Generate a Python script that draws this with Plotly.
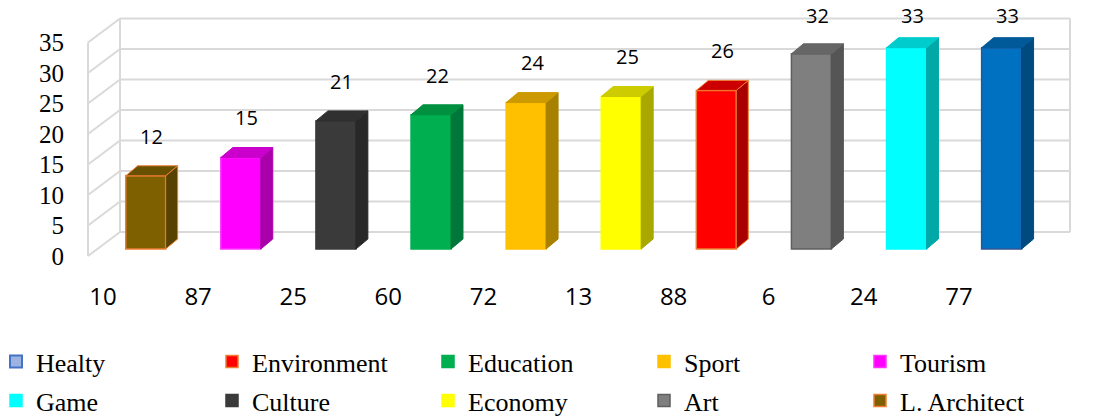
import plotly.graph_objects as go

# ---- data ----
categories = ["10", "87", "25", "60", "72", "13", "88", "6", "24", "77"]
series_names = ["L. Architect", "Tourism", "Culture", "Education", "Sport",
                "Economy", "Environment", "Art", "Game", "Healty"]
values = [12, 15, 21, 22, 24, 25, 26, 32, 33, 33]
legend_order = ["Healty", "Environment", "Education", "Sport", "Tourism",
                "Game", "Culture", "Economy", "Art", "L. Architect"]
y_ticks = [0, 5, 10, 15, 20, 25, 30, 35]

# ---- styling ----
front_colors = ["#7F6000", "#FF00FF", "#3A3A3A", "#00B050", "#FFC000",
                "#FFFF00", "#FF0000", "#7F7F7F", "#00FFFF", "#0070C0"]
side_colors = ["#574200", "#AA00AA", "#282828", "#00773A", "#A88000",
               "#A8A800", "#A80000", "#555555", "#00A8A8", "#004A80"]
top_colors = ["#675000", "#CC00CC", "#303030", "#009040", "#CC9A00",
              "#CCCC00", "#CC0000", "#666666", "#00CCCC", "#005A9A"]
edge_colors = ["#ED7D31", "#FF33FF", "#3A3A3A", "#00B050", "#FFC000",
               "#FFFF00", "#ED7D31", "#5F5F5F", "#00FFFF", "#2F5597"]

W, H = 1102, 419
PX_X = 95.1          # pixels per category step
PX_Y = 6.1           # pixels per value unit
X0_PX = 103          # pixel of the first category on the front plane
Y0_PX = 256          # pixel of value 0 on the front plane
M_L, M_R, M_T, M_B = 86, 0, 0, 149
PLOT_W = W - M_L - M_R
PLOT_H = H - M_T - M_B

# perspective depth of the box (front plane -> back wall)
DX = 32 / PX_X
DY = 24 / PX_Y
# bar geometry
BAR_OFF = 0.239      # gap from category position to bar front face
BAR_W = 0.42         # front face width
BAR_BASE = 7 / PX_Y  # bars stand a bit behind the front floor edge
BDX = 12 / PX_X      # bar depth
BDY = 10 / PX_Y
WALL_L = (88 - X0_PX) / PX_X
WALL_R = (1038 - X0_PX) / PX_X
Y_TOP = y_ticks[-1]

x_range = [(M_L - X0_PX) / PX_X, (W - M_R - X0_PX) / PX_X]
y_range = [(Y0_PX - PLOT_H) / PX_Y, Y0_PX / PX_Y]

fig = go.Figure()

# walls and gridlines
grid = dict(color="#D9D9D9", width=2)
shapes = []
for v in y_ticks:
    shapes.append(dict(type="line", x0=WALL_L + DX, x1=WALL_R + DX, y0=v + DY, y1=v + DY,
                       xref="x", yref="y", line=grid, layer="below"))
    shapes.append(dict(type="line", x0=WALL_L, x1=WALL_L + DX, y0=v, y1=v + DY,
                       xref="x", yref="y", line=grid, layer="below"))
for x0, dy in [(WALL_L, 0), (WALL_L + DX, DY), (WALL_R + DX, DY)]:
    shapes.append(dict(type="line", x0=x0, x1=x0, y0=dy, y1=Y_TOP + dy,
                       xref="x", yref="y", line=grid, layer="below"))


def legend_for(name):
    # first five entries on the upper legend row, the rest on the lower one
    return "legend" if legend_order.index(name) < 5 else "legend2"


annotations = []
for i, (name, v) in enumerate(zip(series_names, values)):
    xl = i + BAR_OFF
    xr = xl + BAR_W
    b = BAR_BASE
    top = b + v
    is_healty = name == "Healty"
    orange_edge = edge_colors[i] == "#ED7D31"
    fig.add_trace(go.Bar(
        x=[xl + BAR_W / 2], y=[v], base=[b], width=[BAR_W], name=name,
        marker=dict(color=front_colors[i], line=dict(color=edge_colors[i], width=1.5)),
        showlegend=not is_healty, legend=legend_for(name),
        legendrank=legend_order.index(name) + 1, hoverinfo="skip"))
    # side face
    fig.add_trace(go.Scatter(
        x=[xr, xr + BDX, xr + BDX, xr, xr], y=[b, b + BDY, top + BDY, top, b],
        mode="lines", fill="toself", fillcolor=side_colors[i],
        line=dict(color=edge_colors[i] if orange_edge else side_colors[i], width=1),
        showlegend=False, hoverinfo="skip"))
    # top face
    fig.add_trace(go.Scatter(
        x=[xl, xr, xr + BDX, xl + BDX, xl], y=[top, top, top + BDY, top + BDY, top],
        mode="lines", fill="toself", fillcolor=top_colors[i],
        line=dict(color=edge_colors[i] if orange_edge else top_colors[i], width=1),
        showlegend=False, hoverinfo="skip"))
    annotations.append(dict(
        x=xl + BAR_W / 2 + BDX / 2, y=min(top + 6.5, 39.5), text=str(v),
        showarrow=False, xref="x", yref="y",
        font=dict(family="Open Sans", size=20, color="#000000")))

# legend entry for Healty
fig.add_trace(go.Bar(
    x=[None], y=[None], name="Healty", legend=legend_for("Healty"),
    marker=dict(color="#9DB4E2", line=dict(color="#4472C4", width=2)),
    legendrank=legend_order.index("Healty") + 1, hoverinfo="skip"))

legend_style = dict(orientation="h", x=-(M_L + 4) / PLOT_W, xanchor="left",
                    yanchor="top", entrywidth=171, itemwidth=30,
                    bgcolor="rgba(0,0,0,0)", traceorder="normal",
                    font=dict(family="Liberation Serif", size=26, color="#000000"))

fig.update_layout(
    width=W, height=H,
    margin=dict(l=M_L, r=M_R, t=M_T, b=M_B, autoexpand=False),
    paper_bgcolor="white", plot_bgcolor="white",
    barmode="overlay",
    shapes=shapes, annotations=annotations,
    xaxis=dict(range=x_range, tickvals=list(range(len(categories))), ticktext=categories,
               showgrid=False, zeroline=False, showline=False, ticks="",
               ticklabelstandoff=10,
               tickfont=dict(family="Open Sans", size=24, color="#000000")),
    yaxis=dict(range=y_range, tickvals=y_ticks, showgrid=False, zeroline=False,
               showline=False, ticks="", ticklabelstandoff=21,
               tickfont=dict(family="Liberation Serif", size=25, color="#000000")),
    legend=dict(legend_style, y=-(338 - PLOT_H) / PLOT_H),
    legend2=dict(legend_style, y=-(377 - PLOT_H) / PLOT_H),
    showlegend=True,
)

fig.write_html("out.html")
